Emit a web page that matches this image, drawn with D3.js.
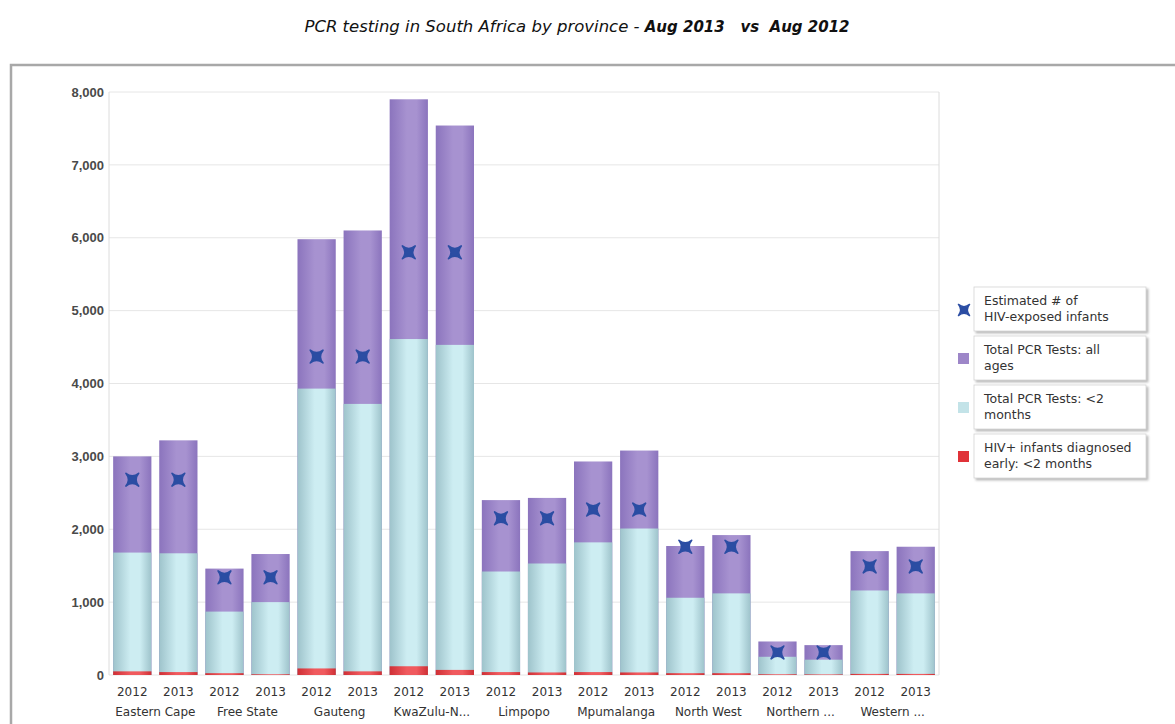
<!DOCTYPE html>
<html>
<head>
<meta charset="utf-8">
<script src="https://cdn.jsdelivr.net/npm/d3@7"></script>
<style>
  body { margin: 0; background: #fff; }
  svg { display: block; }
</style>
</head>
<body>
<script>
// Data
const provinces = ["Eastern Cape", "Free State", "Gauteng", "KwaZulu-N...", "Limpopo",
  "Mpumalanga", "North West", "Northern ...", "Western ..."];
const years = ["2012", "2013"];
// one value per bar: province x year (2012, 2013)
const totalAllAges = [3000, 3220, 1460, 1660, 5980, 6100, 7900, 7540, 2400, 2430,
  2930, 3080, 1770, 1920, 460, 410, 1700, 1760];
const totalUnder2 = [1680, 1670, 870, 1000, 3930, 3720, 4610, 4530, 1420, 1530,
  1820, 2010, 1060, 1120, 250, 210, 1160, 1120];
const hivPositive = [50, 40, 25, 10, 90, 50, 120, 70, 40, 35,
  40, 35, 25, 25, 10, 8, 15, 15];
const estimatedExposed = [2680, 2680, 1340, 1340, 4370, 4370, 5800, 5800, 2150, 2150,
  2270, 2270, 1760, 1760, 310, 310, 1490, 1490];
const yTicks = [0, 1000, 2000, 3000, 4000, 5000, 6000, 7000, 8000];
const legendItems = ["Estimated # of|HIV-exposed infants", "Total PCR Tests: all|ages",
  "Total PCR Tests: <2|months", "HIV+ infants diagnosed|early: <2 months"];

const width = 1175, height = 724;
const margin = { top: 92, right: 236, bottom: 49, left: 109 };

const bars = [];
provinces.forEach((p, i) => years.forEach((y, j) => {
  const k = i * 2 + j;
  bars.push({ key: p + "|" + y, province: p, year: y, all: totalAllAges[k],
    under2: totalUnder2[k], pos: hivPositive[k], est: estimatedExposed[k] });
}));

const svg = d3.select("body").append("svg").attr("width", width).attr("height", height);
const defs = svg.append("defs");

function cylinder(id, edge, mid) {
  const g = defs.append("linearGradient").attr("id", id)
    .attr("x1", "0%").attr("x2", "100%").attr("y1", "0%").attr("y2", "0%");
  g.append("stop").attr("offset", "0%").attr("stop-color", edge);
  g.append("stop").attr("offset", "45%").attr("stop-color", mid);
  g.append("stop").attr("offset", "70%").attr("stop-color", mid);
  g.append("stop").attr("offset", "100%").attr("stop-color", edge);
}
cylinder("gPurple", "#8b74bd", "#a792d0");
cylinder("gCyan", "#9ec3cb", "#cdedf2");
cylinder("gRed", "#cf2f35", "#f05a5e");

const shadow = defs.append("filter").attr("id", "shadow")
  .attr("x", "-5%").attr("y", "-5%").attr("width", "110%").attr("height", "115%");
shadow.append("feDropShadow").attr("dx", 2).attr("dy", 2).attr("stdDeviation", 1)
  .attr("flood-color", "#888").attr("flood-opacity", 0.6);

// Title
const title = svg.append("text").attr("x", 577).attr("y", 32).attr("text-anchor", "middle")
  .attr("font-family", "DejaVu Sans, sans-serif").attr("font-style", "italic")
  .attr("fill", "#111");
title.append("tspan").attr("font-size", 16.5).text("PCR testing in South Africa by province - ");
title.append("tspan").attr("font-size", 15).attr("font-weight", "bold")
  .text("Aug 2013\u00a0\u00a0\u00a0vs\u00a0\u00a0Aug 2012");

// Outer frame
svg.append("rect").attr("x", 11).attr("y", 65).attr("width", 1200).attr("height", 700)
  .attr("fill", "#fff").attr("stroke", "#a8a8a8").attr("stroke-width", 2.5);

// Scales
const x = d3.scaleBand().domain(bars.map(d => d.key))
  .range([margin.left, width - margin.right]).paddingInner(0.17).paddingOuter(0.09);
const y = d3.scaleLinear().domain([0, 8000]).range([height - margin.bottom, margin.top]);

// Grid
svg.append("g").selectAll("line").data(yTicks).join("line")
  .attr("x1", margin.left).attr("x2", width - margin.right)
  .attr("y1", d => y(d)).attr("y2", d => y(d))
  .attr("stroke", "#e6e6e6");
svg.append("line").attr("x1", margin.left).attr("x2", margin.left)
  .attr("y1", y(8000)).attr("y2", y(0)).attr("stroke", "#dcdcdc");
svg.append("line").attr("x1", width - margin.right).attr("x2", width - margin.right)
  .attr("y1", y(8000)).attr("y2", y(0)).attr("stroke", "#dcdcdc");

// Y axis
const yAxis = svg.append("g").attr("transform", `translate(${margin.left - 2},0)`)
  .call(d3.axisLeft(y).tickValues(yTicks).tickFormat(d3.format(",")).tickSize(0).tickPadding(3));
yAxis.select(".domain").remove();
yAxis.selectAll("text").attr("font-family", "Liberation Sans, Arial, sans-serif")
  .attr("font-size", 13).attr("font-weight", "bold").attr("fill", "#4a4a4a");

// Bars (overlapping from zero)
const barG = svg.append("g");
[["all", "url(#gPurple)"], ["under2", "url(#gCyan)"], ["pos", "url(#gRed)"]].forEach(([k, fill]) => {
  barG.append("g").selectAll("rect").data(bars).join("rect")
    .attr("x", d => x(d.key)).attr("width", x.bandwidth())
    .attr("y", d => y(d[k])).attr("height", d => y(0) - y(d[k]))
    .attr("fill", fill);
});

// Star markers (4 points on the diagonals)
const starPath = (s) => {
  const a = s / 2, b = s * 0.1;
  return `M${-a},${-a} Q0,${-b} ${a},${-a} Q${b},0 ${a},${a} Q0,${b} ${-a},${a} Q${-b},0 ${-a},${-a} Z`;
};
svg.append("g").selectAll("path").data(bars).join("path")
  .attr("transform", d => `translate(${x(d.key) + x.bandwidth() / 2},${y(d.est)}) scale(0.8)`)
  .attr("d", starPath(16)).attr("fill", "#2b4da3")
  .attr("stroke", "#2b4da3").attr("stroke-width", 2).attr("stroke-linejoin", "round");

// X labels
const xl = svg.append("g").attr("font-family", "DejaVu Sans, sans-serif")
  .attr("font-size", 12).attr("fill", "#333").attr("text-anchor", "middle");
xl.selectAll("text.yr").data(bars).join("text").attr("class", "yr")
  .attr("x", d => x(d.key) + x.bandwidth() / 2).attr("y", y(0) + 21)
  .text(d => d.year);
xl.selectAll("text.pr").data(provinces).join("text").attr("class", "pr")
  .attr("x", d => (x(d + "|2012") + x(d + "|2013") + x.bandwidth()) / 2)
  .attr("y", y(0) + 41).text(d => d);

// Legend
const legend = svg.append("g").attr("font-family", "DejaVu Sans, sans-serif")
  .attr("font-size", 12.5).attr("fill", "#333");
const li = legend.selectAll("g").data(legendItems).join("g")
  .attr("transform", (d, i) => `translate(974,${287 + i * 49})`);
li.append("rect").attr("width", 172).attr("height", 44).attr("fill", "#fff")
  .attr("stroke", "#d4d4d4").attr("stroke-width", 0.8).attr("filter", "url(#shadow)");
li.each(function (d, i) {
  const g = d3.select(this);
  if (i === 0) {
    g.append("path").attr("transform", "translate(-10,23) scale(0.7)")
      .attr("d", starPath(16)).attr("fill", "#2b4da3")
      .attr("stroke", "#2b4da3").attr("stroke-width", 2).attr("stroke-linejoin", "round");
  } else {
    g.append("rect").attr("x", -16).attr("y", 17).attr("width", 11).attr("height", 11)
      .attr("fill", ["", "#9d86c8", "#c3e3e8", "#e03238"][i]);
  }
  const t = g.append("text").attr("x", 10).attr("y", 18);
  d.split("|").forEach((line, j) => t.append("tspan").attr("x", 10).attr("dy", j ? 16 : 0).text(line));
});
</script>
</body>
</html>
